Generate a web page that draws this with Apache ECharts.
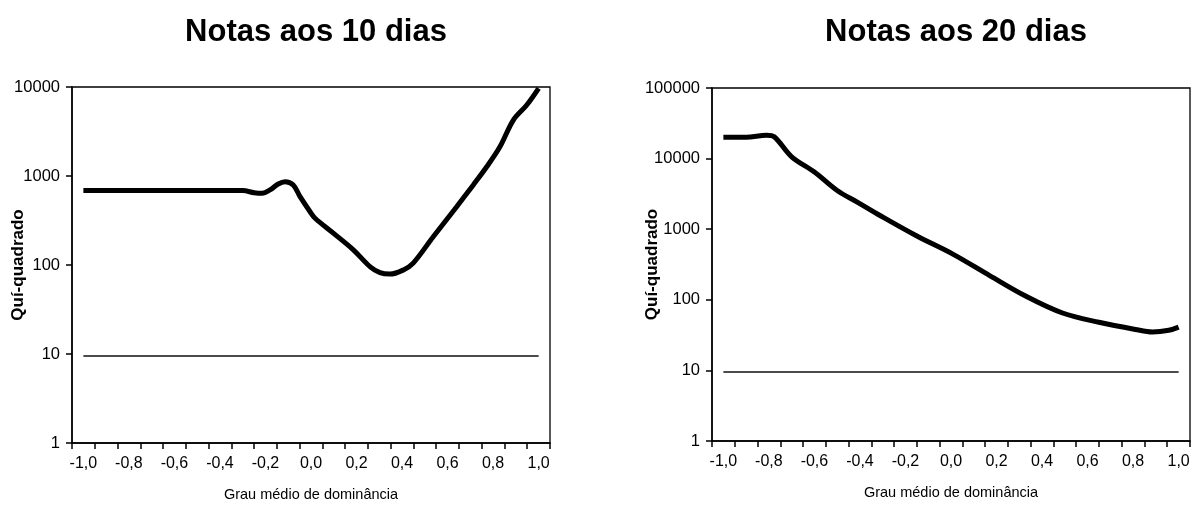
<!DOCTYPE html>
<html>
<head>
<meta charset="utf-8">
<script src="https://cdn.jsdelivr.net/npm/echarts@6/dist/echarts.min.js"></script>
<style>
  html, body { margin: 0; padding: 0; background: #fff; }
  #chart { width: 1196px; height: 515px; }
</style>
</head>
<body>
<div id="chart"></div>
<script>
// x categories on the axis (-1,0 .. 1,0 step 0,1)
var categorias = ['-1,0','-0,9','-0,8','-0,7','-0,6','-0,5','-0,4','-0,3','-0,2','-0,1','0,0',
  '0,1','0,2','0,3','0,4','0,5','0,6','0,7','0,8','0,9','1,0'];

// Notas aos 10 dias
var grau10 = [-1.0, -0.6, -0.3, -0.25, -0.215, -0.18, -0.144, -0.114, -0.078, -0.048, -0.004, 0.018,
  0.098, 0.186, 0.259, 0.303, 0.347, 0.406, 0.449, 0.537, 0.64, 0.713, 0.772, 0.83, 0.889, 0.948, 1.0];
var qui10 = [685, 685, 685, 650, 640, 697, 813, 863, 793, 586, 397, 335,
  228, 148, 96, 82, 79, 88, 105, 208, 452, 794, 1270, 2130, 4250, 6270, 9640];

// Notas aos 20 dias
var grau20 = [-1.0, -0.9, -0.81, -0.777, -0.70, -0.60, -0.50, -0.41, -0.31, -0.15, 0.01,
  0.17, 0.33, 0.49, 0.65, 0.81, 0.885, 0.957, 1.0];
var qui20 = [20000, 20000, 21500, 20400, 10600, 6450, 3530, 2400, 1550, 800, 440,
  220, 112, 65, 48, 38, 35, 37, 41];

// valor critico (linha fina)
var critico = 9.49;

var sans = "'Liberation Sans', Arial, sans-serif";
var chart = echarts.init(document.getElementById('chart'), null, { renderer: 'canvas' });

function pares(xs, ys) {
  return xs.map(function (x, i) { return [x, ys[i]]; });
}

var grids = [
  { left: 72, top: 87, width: 478, height: 356 },
  { left: 712, top: 88, width: 478, height: 353 }
];
var ymax = [10000, 100000];
var nameGaps = [45, 51];

var xAxes = [], yAxes = [];
grids.forEach(function (g, i) {
  g.show = true;
  g.borderColor = '#000';
  g.borderWidth = 1.3;
  g.containLabel = false;
  g.outerBoundsMode = 'none';
  xAxes.push({
    type: 'value', gridIndex: i, position: 'top', min: -1.05, max: 1.05, show: false
  });
  xAxes.push({
    type: 'category', gridIndex: i, position: 'bottom', data: categorias, boundaryGap: true,
    axisLine: { onZero: false, lineStyle: { color: '#000', width: 1.5 } },
    axisTick: { show: true, interval: 0, length: 6, lineStyle: { color: '#000', width: 1.5 } },
    axisLabel: { interval: 1, color: '#000', fontSize: 16, fontFamily: sans, margin: 13 },
    name: 'Grau médio de dominância', nameLocation: 'middle', nameGap: 44, nameMoveOverlap: false,
    nameTextStyle: { color: '#000', fontSize: 14.5, fontFamily: sans },
    splitLine: { show: false }
  });
  yAxes.push({
    type: 'log', gridIndex: i, logBase: 10, min: 1, max: ymax[i], position: 'left',
    axisLine: { show: true, onZero: false, lineStyle: { color: '#000', width: 1.5 } },
    axisTick: { show: true, length: 6, lineStyle: { color: '#000', width: 1.5 } },
    axisLabel: {
      color: '#000', fontSize: 16.5, fontFamily: sans, margin: 12,
      formatter: function (v) { return String(Math.round(v)); }
    },
    minorTick: { show: false },
    splitLine: { show: false },
    name: 'Quí-quadrado', nameLocation: 'middle', nameGap: nameGaps[i], nameMoveOverlap: false,
    nameTextStyle: { color: '#000', fontSize: 17, fontWeight: 'bold', fontFamily: sans }
  });
});

function curva(xi, yi, data) {
  return {
    type: 'line', xAxisIndex: xi, yAxisIndex: yi, data: data,
    smooth: 0.35, showSymbol: false, symbol: 'none',
    lineStyle: { color: '#000', width: 5 }, z: 3
  };
}
function limiar(xi, yi) {
  return {
    type: 'line', xAxisIndex: xi, yAxisIndex: yi,
    data: [[-1.0, critico], [1.0, critico]],
    showSymbol: false, symbol: 'none',
    lineStyle: { color: '#111', width: 1.5 }, z: 2
  };
}

chart.setOption({
  animation: false,
  backgroundColor: '#fff',
  title: [
    { text: 'Notas aos 10 dias', left: 311, top: 12, textAlign: 'center',
      textStyle: { fontSize: 31, fontWeight: 'bold', color: '#000', fontFamily: sans } },
    { text: 'Notas aos 20 dias', left: 951, top: 12, textAlign: 'center',
      textStyle: { fontSize: 31, fontWeight: 'bold', color: '#000', fontFamily: sans } }
  ],
  grid: grids,
  xAxis: xAxes,
  yAxis: yAxes,
  series: [
    limiar(0, 0),
    curva(0, 0, pares(grau10, qui10)),
    limiar(2, 1),
    curva(2, 1, pares(grau20, qui20))
  ]
});
</script>
</body>
</html>
